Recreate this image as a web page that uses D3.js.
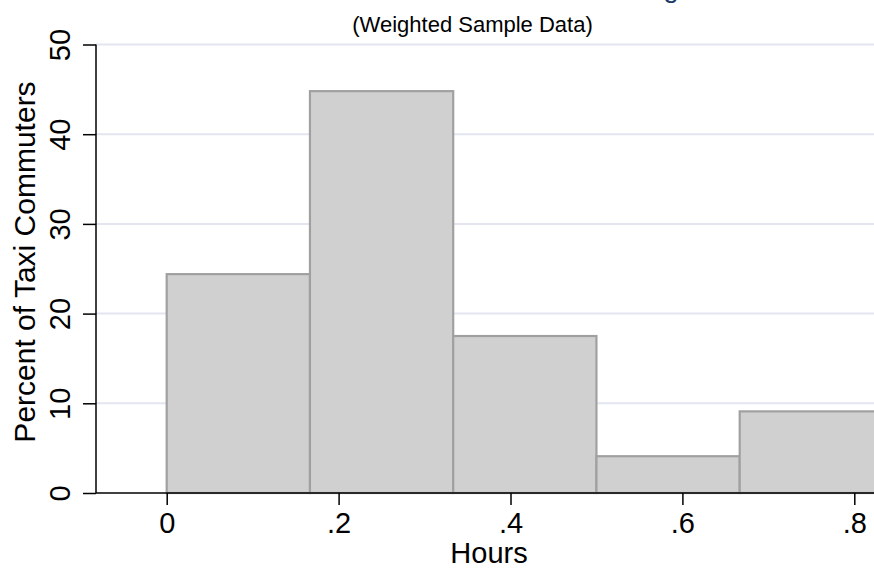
<!DOCTYPE html>
<html>
<head>
<meta charset="utf-8">
<script src="https://cdn.jsdelivr.net/npm/d3@7"></script>
<style>
  body { margin: 0; background: #fff; }
  text { font-family: "Liberation Sans", Arial, sans-serif; }
</style>
</head>
<body>
<div id="chart"></div>
<script>
// histogram bins (hours), width 1/6
const binStarts = [0, 1 / 6, 2 / 6, 3 / 6, 4 / 6];
const binWidth = 1 / 6;
const percents = [24.4, 44.8, 17.5, 4.1, 9.1];
const xTicks = [0, 0.2, 0.4, 0.6, 0.8];
const xTickLabels = ['0', '.2', '.4', '.6', '.8'];
const yTicks = [0, 10, 20, 30, 40, 50];

const width = 874;
const height = 568;

const svg = d3.select('#chart')
  .append('svg')
  .attr('width', width)
  .attr('height', height);

// plot area runs past the right edge, like the reference crop
const x = d3.scaleLinear()
  .domain([0, 0.8])
  .range([166.7, 854.3]);
const y = d3.scaleLinear()
  .domain([0, 50])
  .range([493, 44.5]);

const left = 96;
const right = 900;

// gridlines
svg.append('g')
  .selectAll('line')
  .data(yTicks.filter(d => d > 0))
  .enter()
  .append('line')
  .attr('x1', left)
  .attr('x2', right)
  .attr('y1', d => y(d))
  .attr('y2', d => y(d))
  .attr('stroke', '#e3e6ef')
  .attr('stroke-width', 2);

// bars
svg.append('g')
  .selectAll('rect')
  .data(binStarts)
  .enter()
  .append('rect')
  .attr('x', d => x(d))
  .attr('y', (d, i) => y(percents[i]))
  .attr('width', d => x(d + binWidth) - x(d))
  .attr('height', (d, i) => y(0) - y(percents[i]))
  .attr('fill', '#d0d0d0')
  .attr('stroke', '#a0a0a0')
  .attr('stroke-width', 2.2);

// x axis
const xAxis = svg.append('g')
  .attr('transform', 'translate(0,' + y(0) + ')')
  .call(d3.axisBottom(x)
    .tickValues(xTicks)
    .tickFormat((d, i) => xTickLabels[i])
    .tickSize(12));
xAxis.select('.domain').remove();
xAxis.append('line')
  .attr('x1', left)
  .attr('x2', right)
  .attr('stroke', '#000')
  .attr('stroke-width', 1.5);
xAxis.selectAll('.tick line').attr('stroke-width', 1.5);
xAxis.selectAll('.tick text')
  .attr('y', 40)
  .attr('dy', 0)
  .attr('fill', '#000')
  .style('font-size', '29px');

// y axis
const yAxis = svg.append('g')
  .attr('transform', 'translate(' + left + ',0)')
  .call(d3.axisLeft(y)
    .tickValues(yTicks)
    .tickSize(13));
yAxis.select('.domain').remove();
yAxis.append('line')
  .attr('y1', y(0))
  .attr('y2', y(50))
  .attr('stroke', '#000')
  .attr('stroke-width', 1.5);
yAxis.selectAll('.tick line').attr('stroke-width', 1.5);
yAxis.selectAll('.tick text')
  .attr('x', 0)
  .attr('dy', 0)
  .attr('transform', 'translate(-26,0) rotate(-90)')
  .attr('text-anchor', 'middle')
  .attr('fill', '#000')
  .style('font-size', '29px');

// titles (main title is cut off at the top, as in the reference)
svg.append('text')
  .attr('x', 482)
  .attr('y', -3)
  .attr('text-anchor', 'middle')
  .attr('fill', '#1a3a6b')
  .style('font-size', '28px')
  .text('Travel Time for Taxi Commuting');

svg.append('text')
  .attr('x', 472.5)
  .attr('y', 32)
  .attr('text-anchor', 'middle')
  .attr('fill', '#000')
  .style('font-size', '22px')
  .text('(Weighted Sample Data)');

svg.append('text')
  .attr('x', 489)
  .attr('y', 563)
  .attr('text-anchor', 'middle')
  .attr('fill', '#000')
  .style('font-size', '29px')
  .text('Hours');

svg.append('text')
  .attr('transform', 'translate(35,262) rotate(-90)')
  .attr('text-anchor', 'middle')
  .attr('fill', '#000')
  .style('font-size', '30px')
  .text('Percent of Taxi Commuters');
</script>
</body>
</html>
